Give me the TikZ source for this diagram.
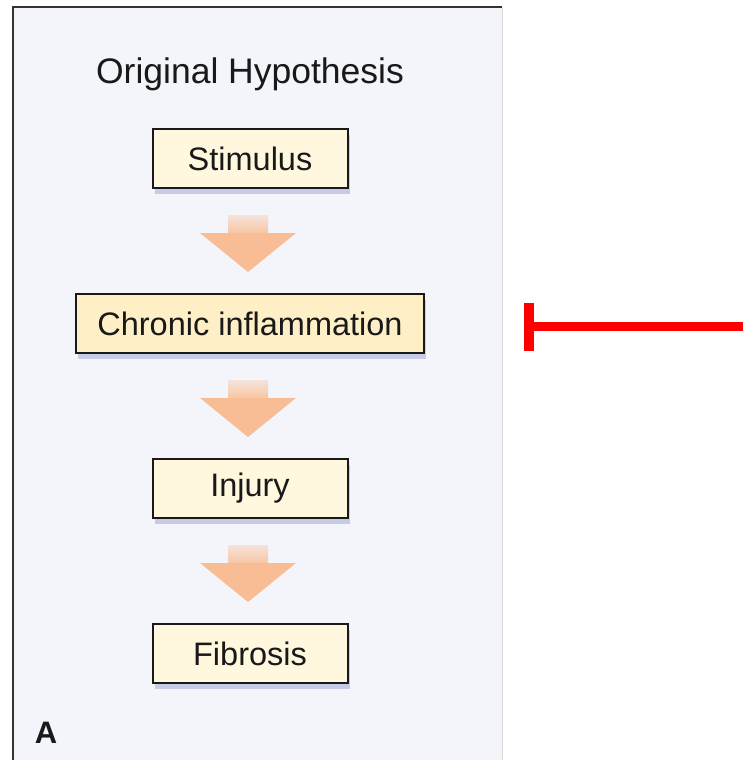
\documentclass[tikz,border=0pt]{standalone}
\usepackage{fontspec}
\setmainfont{Liberation Sans}
\usetikzlibrary{positioning,shadows,arrows.meta,calc}

\definecolor{panelbg}{HTML}{F3F5FA}
\definecolor{boxcream}{HTML}{FFF8DF}
\definecolor{boxwarm}{HTML}{FFEFC6}
\definecolor{arrowsalmon}{HTML}{F8BD95}
\definecolor{shaftpale}{HTML}{F5E4DC}
\definecolor{shadowblue}{HTML}{C6CCE6}

\tikzset{
  stagebox/.style={draw=black!90, line width=2pt, fill=boxcream,
    minimum width=195pt, minimum height=59pt, inner xsep=21pt,
    font=\fontsize{32.5}{38}\selectfont, text=black!90,
    drop shadow={shadow xshift=2pt, shadow yshift=-6pt, fill=shadowblue, opacity=1}},
}

\begin{document}
\begin{tikzpicture}[x=1pt, y=-1pt, node distance=104pt]
  \useasboundingbox (0,0) rectangle (743,760);
  % panel
  \fill [panelbg] (13,7) rectangle (502,760);
  \draw [black!15, line width=1pt] (502,7) -- (502,760);
  \draw [black!80, line width=2.5pt] (13,760) -- (13,7) -- (502,7);

  \node [anchor=base, font=\fontsize{35.5}{42}\selectfont, text=black!90] (title) at (250,84) {Original Hypothesis};

  % stages
  \node [stagebox] (stim) at (250,158.5) {Stimulus};
  \node [stagebox, fill=boxwarm, below=of stim] (chronic) {Chronic inflammation};
  \node [stagebox, below=of chronic] (injury) {Injury};
  \node [stagebox, below=of injury] (fibrosis) {Fibrosis};

  % block arrows
  \foreach \nxt in {chronic,injury,fibrosis}{
    \coordinate (tip) at ($(\nxt.north)+(-2,-21)$);
    \shade [top color=shaftpale, bottom color=arrowsalmon!90]
      ($(tip)+(-20,-57)$) rectangle ($(tip)+(20,-38)$);
    \fill [arrowsalmon] ($(tip)+(-48,-39)$) -- (tip) -- ($(tip)+(48,-39)$) -- cycle;
  }

  \node [font=\bfseries\fontsize{31}{36}\selectfont, text=black!90] (panel) at (46,733) {A};

  % inhibition
  \coordinate (inhib) at (743,326.5);
  \draw [red, line width=9.5pt, -{Bar[width=48pt, line width=10pt]}] (inhib) -- (524,326.5);
\end{tikzpicture}
\end{document}
